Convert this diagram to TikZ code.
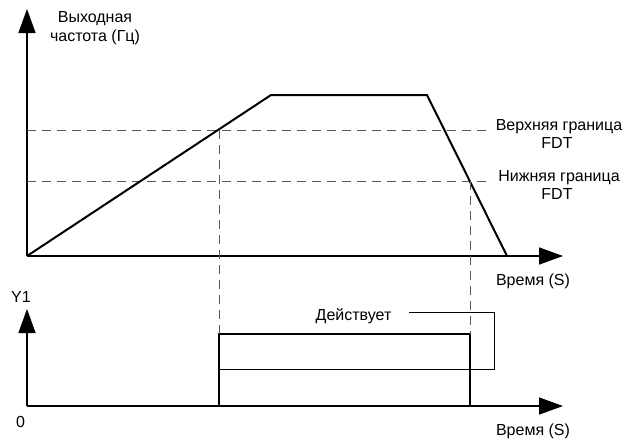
\documentclass[tikz,border=0pt]{standalone}
\usepackage{fontspec}
\setmainfont{Liberation Sans}
\usetikzlibrary{arrows.meta}
\begin{document}
\begin{tikzpicture}[x=1pt,y=-1pt,
  axis/.style={line width=1.5pt,-{Triangle[length=24pt,width=17pt]}},
  curve/.style={line width=2pt,line join=miter},
  guide/.style={draw=black!65,line width=1pt,dash pattern=on 9pt off 6pt},
  lbl/.style={font=\fontsize{16}{18}\selectfont,inner sep=0pt,anchor=base},
  pulse/.style={line width=2pt,line join=miter},
  callout/.style={line width=1pt}]
\useasboundingbox (0,0) rectangle (624,440);
% upper chart
\coordinate (O1) at (27,256);
\coordinate (Y1tip) at (27,9);
\coordinate (X1tip) at (563,256);
\draw[axis] (O1) -- (Y1tip);
\draw[axis] (O1) -- (X1tip);
\node[lbl] (yl1) at (95,22) {Выходная};
\node[lbl] (yl2) at (95,41) {частота (Гц)};
\node[lbl] (xl1) at (533,285) {Время (S)};
% thresholds
\coordinate (U0) at (27,130);
\coordinate (U1) at (487,130);
\coordinate (L0) at (27,181);
\coordinate (L1) at (487,181);
\draw[guide] (U0) -- (U1);
\draw[guide] (L0) -- (L1);
\node[lbl] (ub1) at (559,130) {Верхняя граница};
\node[lbl] (ub2) at (557,148) {FDT};
\node[lbl] (lb1) at (559,181) {Нижняя граница};
\node[lbl] (lb2) at (557,199) {FDT};
% frequency curve
\coordinate (P1) at (271,95);
\coordinate (P2) at (427,95);
\coordinate (P3) at (507,256);
\draw[curve] (O1) -- (P1) -- (P2) -- (P3);
% lower chart
\coordinate (O2) at (27,406);
\coordinate (Y2tip) at (27,309);
\coordinate (X2tip) at (563,406);
\draw[axis] (O2) -- (Y2tip);
\draw[axis] (O2) -- (X2tip);
\node[lbl] (y1lbl) at (21,302) {Y1};
\node[lbl] (zero) at (20.5,427) {0};
\node[lbl] (xl2) at (533,435) {Время (S)};
% pulse
\coordinate (A0) at (219,406);
\coordinate (A1) at (219,334);
\coordinate (B1) at (470,334);
\coordinate (B0) at (470,406);
\draw[pulse] (A0) -- (A1) -- (B1) -- (B0);
% projections
\coordinate (Ua) at (219,130);
\coordinate (Lb) at (470,181);
\draw[guide] (Ua) -- (A1);
\draw[guide] (Lb) -- (B1);
% callout
\node[lbl] (act) at (353.5,320) {Действует};
\coordinate (C0) at (409,312);
\coordinate (C1) at (494,312);
\coordinate (C2) at (494,369);
\coordinate (C3) at (219,369);
\draw[callout] (C0) -- (C1) -- (C2) -- (C3);
\end{tikzpicture}
\end{document}
